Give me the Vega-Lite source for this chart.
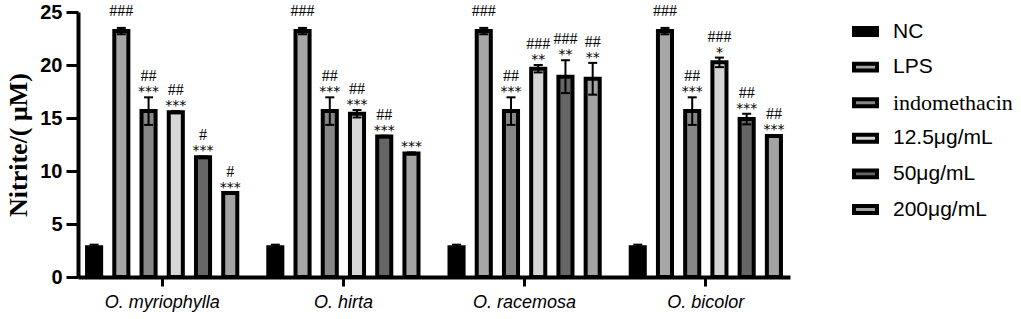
{
  "$schema": "https://vega.github.io/schema/vega-lite/v6.json",
  "autosize": "none",
  "padding": {"left": 78, "top": 12, "right": 231, "bottom": 42},
  "width": 712,
  "height": 265,
  "background": "white",
  "config": {"view": {"stroke": null}},
  "data": {"values": [
    {"g": "O. myriophylla", "t": "NC", "v": 2.8, "lo": 2.55, "hi": 3.05, "h": "", "s": ""},
    {"g": "O. myriophylla", "t": "LPS", "v": 23.2, "lo": 22.9, "hi": 23.5, "h": "###", "s": ""},
    {"g": "O. myriophylla", "t": "indomethacin", "v": 15.65, "lo": 14.35, "hi": 16.95, "h": "##", "s": "***"},
    {"g": "O. myriophylla", "t": "12.5μg/mL", "v": 15.55, "lo": 15.45, "hi": 15.65, "h": "##", "s": "***"},
    {"g": "O. myriophylla", "t": "50μg/mL", "v": 11.3, "lo": 11.22, "hi": 11.38, "h": "#", "s": "***"},
    {"g": "O. myriophylla", "t": "200μg/mL", "v": 7.92, "lo": 7.87, "hi": 7.97, "h": "#", "s": "***"},
    {"g": "O. hirta", "t": "NC", "v": 2.8, "lo": 2.55, "hi": 3.05, "h": "", "s": ""},
    {"g": "O. hirta", "t": "LPS", "v": 23.2, "lo": 22.9, "hi": 23.5, "h": "###", "s": ""},
    {"g": "O. hirta", "t": "indomethacin", "v": 15.65, "lo": 14.35, "hi": 16.95, "h": "##", "s": "***"},
    {"g": "O. hirta", "t": "12.5μg/mL", "v": 15.4, "lo": 15.05, "hi": 15.75, "h": "##", "s": "***"},
    {"g": "O. hirta", "t": "50μg/mL", "v": 13.25, "lo": 13.17, "hi": 13.33, "h": "##", "s": "***"},
    {"g": "O. hirta", "t": "200μg/mL", "v": 11.65, "lo": 11.55, "hi": 11.75, "h": "", "s": "***"},
    {"g": "O. racemosa", "t": "NC", "v": 2.8, "lo": 2.55, "hi": 3.05, "h": "", "s": ""},
    {"g": "O. racemosa", "t": "LPS", "v": 23.2, "lo": 22.9, "hi": 23.5, "h": "###", "s": ""},
    {"g": "O. racemosa", "t": "indomethacin", "v": 15.65, "lo": 14.35, "hi": 16.95, "h": "##", "s": "***"},
    {"g": "O. racemosa", "t": "12.5μg/mL", "v": 19.65, "lo": 19.3, "hi": 20.0, "h": "###", "s": "**"},
    {"g": "O. racemosa", "t": "50μg/mL", "v": 18.9, "lo": 17.35, "hi": 20.45, "h": "###", "s": "**"},
    {"g": "O. racemosa", "t": "200μg/mL", "v": 18.7, "lo": 17.2, "hi": 20.2, "h": "##", "s": "**"},
    {"g": "O. bicolor", "t": "NC", "v": 2.8, "lo": 2.55, "hi": 3.05, "h": "", "s": ""},
    {"g": "O. bicolor", "t": "LPS", "v": 23.2, "lo": 22.9, "hi": 23.5, "h": "###", "s": ""},
    {"g": "O. bicolor", "t": "indomethacin", "v": 15.65, "lo": 14.35, "hi": 16.95, "h": "##", "s": "***"},
    {"g": "O. bicolor", "t": "12.5μg/mL", "v": 20.25, "lo": 19.8, "hi": 20.7, "h": "###", "s": "*"},
    {"g": "O. bicolor", "t": "50μg/mL", "v": 14.9, "lo": 14.4, "hi": 15.4, "h": "##", "s": "***"},
    {"g": "O. bicolor", "t": "200μg/mL", "v": 13.3, "lo": 13.22, "hi": 13.38, "h": "##", "s": "***"}
  ]},
  "encoding": {
    "x": {
      "field": "g", "type": "nominal", "sort": null,
      "scale": {"paddingInner": 0.171, "paddingOuter": 0.05},
      "axis": {
        "title": null, "labelAngle": 0, "labelFont": "Liberation Sans", "labelFontStyle": "italic",
        "labelFontSize": 18, "labelColor": "black", "labelPadding": 7,
        "domainColor": "black", "domainWidth": 4, "tickColor": "black", "tickWidth": 3, "tickSize": 9
      }
    },
    "xOffset": {
      "field": "t", "type": "nominal",
      "sort": ["NC", "LPS", "indomethacin", "12.5μg/mL", "50μg/mL", "200μg/mL"],
      "scale": {"paddingInner": 0.483, "paddingOuter": 0}
    }
  },
  "layer": [
    {
      "mark": {"type": "bar", "stroke": "black", "strokeWidth": 4, "opacity": 1, "fillOpacity": 1},
      "encoding": {
        "y": {
          "field": "v", "type": "quantitative",
          "scale": {"domain": [0, 25], "nice": false},
          "axis": {
            "title": "Nitrite/( μM)", "titleFont": "Liberation Serif", "titleFontWeight": "bold",
            "titleFontSize": 26, "titleColor": "black", "titlePadding": 8,
            "values": [0, 5, 10, 15, 20, 25], "grid": false,
            "labelFont": "Liberation Sans", "labelFontWeight": "bold", "labelFontSize": 20,
            "labelColor": "black", "labelPadding": 4,
            "domainColor": "black", "domainWidth": 4, "tickColor": "black", "tickWidth": 3, "tickSize": 12
          }
        },
        "color": {
          "field": "t", "type": "nominal",
          "scale": {
            "domain": ["NC", "LPS", "indomethacin", "12.5μg/mL", "50μg/mL", "200μg/mL"],
            "range": ["#000000", "#a6a6a6", "#878787", "#d6d6d6", "#666666", "#a3a3a3"]
          },
          "legend": {
            "title": null, "orient": "none", "legendX": 774, "legendY": 6,
            "symbolType": "M-1,-0.3H1V0.3H-1Z", "symbolSize": 529,
            "symbolStrokeColor": "black", "symbolStrokeWidth": 4, "symbolOpacity": 1,
            "labelFont": "Liberation Sans", "labelFontSize": 21, "labelColor": "black",
            "labelOffset": 14, "rowPadding": 10.6, "labelLimit": 300,
            "encode": {
              "labels": {"update": {
                "font": {"signal": "datum.label === 'indomethacin' ? 'Liberation Serif' : 'Liberation Sans'"},
                "fontSize": {"signal": "datum.label === 'indomethacin' ? 22 : 21"}
              }}
            }
          }
        }
      }
    },
    {
      "mark": {"type": "rule", "color": "black", "strokeWidth": 2},
      "encoding": {
        "y": {"field": "lo", "type": "quantitative"},
        "y2": {"field": "hi"}
      }
    },
    {
      "mark": {"type": "tick", "color": "black", "thickness": 2, "size": 9, "opacity": 1},
      "encoding": {"y": {"field": "hi", "type": "quantitative"}}
    },
    {
      "mark": {"type": "tick", "color": "black", "thickness": 2, "size": 9, "opacity": 1},
      "encoding": {"y": {"field": "lo", "type": "quantitative"}}
    },
    {
      "mark": {"type": "text", "font": "DejaVu Sans", "fontSize": 14, "fill": "#000000", "baseline": "alphabetic", "dy": -1},
      "encoding": {
        "y": {"field": "hi", "type": "quantitative"},
        "text": {"field": "s"}
      }
    },
    {
      "transform": [{"filter": "datum.s !== ''"}],
      "mark": {"type": "text", "font": "Liberation Serif", "fontSize": 16, "fill": "#000000", "baseline": "alphabetic", "dy": -16},
      "encoding": {
        "y": {"field": "hi", "type": "quantitative"},
        "text": {"field": "h"}
      }
    },
    {
      "transform": [{"filter": "datum.s === ''"}],
      "mark": {"type": "text", "font": "Liberation Serif", "fontSize": 16, "fill": "#000000", "baseline": "alphabetic", "dy": -12},
      "encoding": {
        "y": {"field": "hi", "type": "quantitative"},
        "text": {"field": "h"}
      }
    }
  ]
}
